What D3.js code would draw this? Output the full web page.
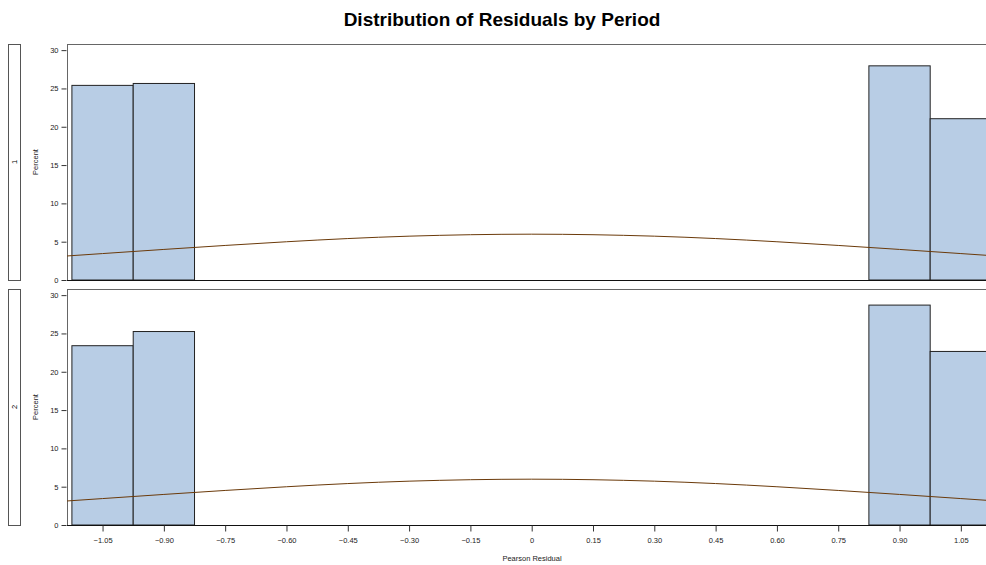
<!DOCTYPE html>
<html>
<head>
<meta charset="utf-8">
<script src="https://cdn.jsdelivr.net/npm/d3@7"></script>
<style>
  body { margin: 0; background: #fff; }
  text { font-family: "Liberation Sans", Arial, sans-serif; }
</style>
</head>
<body>
<script>
// Bin centres (bin width 0.15) and percent per bin for each period
var binCenters = [-1.05, -0.90, 0.90, 1.05];
var binWidth = 0.15;
var period1 = [25.4, 25.65, 27.95, 21.05];
var period2 = [23.4, 25.25, 28.7, 22.65];
var periods = ["1", "2"];

// normal curve (percent scale)
var curveX = [-1.20, -1.05, -0.90, -0.75, -0.60, -0.45, -0.30, -0.15, 0, 0.15, 0.30, 0.45, 0.60, 0.75, 0.90, 1.05, 1.20];
var curveY = [2.91, 3.45, 3.99, 4.51, 4.99, 5.41, 5.72, 5.91, 5.98, 5.91, 5.72, 5.41, 4.99, 4.51, 3.99, 3.45, 2.91];

var xTicks = [-1.05, -0.90, -0.75, -0.60, -0.45, -0.30, -0.15, 0, 0.15, 0.30, 0.45, 0.60, 0.75, 0.90, 1.05];
var yTicks = [0, 5, 10, 15, 20, 25, 30];

var W = 986, H = 565;
var left = 67;
var panels = [{top: 44, bottom: 280, data: period1}, {top: 289, bottom: 525, data: period2}];

var svg = d3.select("body").append("svg")
    .attr("width", W)
    .attr("height", H);

var x = d3.scaleLinear()
    .domain([-1.137, 1.137])
    .range([left, 996.4]);

svg.append("text")
    .attr("x", 502)
    .attr("y", 26)
    .attr("text-anchor", "middle")
    .style("font-size", "19px")
    .style("font-weight", "bold")
    .text("Distribution of Residuals by Period");

svg.append("defs").append("clipPath")
    .attr("id", "plotclip")
  .append("rect")
    .attr("x", left).attr("y", 0)
    .attr("width", W - left).attr("height", H);

panels.forEach(function(p, k) {
  var y = d3.scaleLinear()
      .domain([0, 30.8])
      .range([p.bottom, p.top]);

  var g = svg.append("g");

  // strip on the left
  g.append("rect")
      .attr("x", 8.5).attr("y", p.top + 0.5)
      .attr("width", 12).attr("height", p.bottom - p.top)
      .attr("fill", "#fff")
      .attr("stroke", "#555")
      .attr("stroke-width", 1);
  g.append("text")
      .attr("transform", "translate(16.5," + ((p.top + p.bottom) / 2) + ") rotate(-90)")
      .attr("text-anchor", "middle")
      .style("font-size", "7.5px")
      .text(periods[k]);

  g.append("text")
      .attr("transform", "translate(38," + ((p.top + p.bottom) / 2) + ") rotate(-90)")
      .attr("text-anchor", "middle")
      .style("font-size", "7.5px")
      .attr("fill", "#222")
      .text("Percent");

  var plot = g.append("g").attr("clip-path", "url(#plotclip)");

  // frame
  plot.append("line")
      .attr("x1", left).attr("x2", W)
      .attr("y1", p.top + 0.5).attr("y2", p.top + 0.5)
      .attr("stroke", "#666");
  plot.append("line")
      .attr("x1", left + 0.5).attr("x2", left + 0.5)
      .attr("y1", p.top).attr("y2", p.bottom)
      .attr("stroke", "#666");

  // bars
  plot.selectAll("rect.bar")
      .data(p.data)
      .enter().append("rect")
      .attr("class", "bar")
      .attr("x", function(d, i) { return x(binCenters[i] - binWidth / 2); })
      .attr("y", function(d) { return y(d); })
      .attr("width", function(d, i) { return x(binCenters[i] + binWidth / 2) - x(binCenters[i] - binWidth / 2); })
      .attr("height", function(d) { return y(0) - y(d); })
      .attr("fill", "#B8CDE5")
      .attr("stroke", "#222")
      .attr("stroke-width", 1);

  // normal curve
  var line = d3.line()
      .x(function(d, i) { return x(curveX[i]); })
      .y(function(d) { return y(d); })
      .curve(d3.curveMonotoneX);
  plot.append("path")
      .datum(curveY)
      .attr("d", line)
      .attr("fill", "none")
      .attr("stroke", "#6B3A0A")
      .attr("stroke-width", 1);

  // bottom line
  g.append("line")
      .attr("x1", left).attr("x2", W)
      .attr("y1", p.bottom + 0.5).attr("y2", p.bottom + 0.5)
      .attr("stroke", "#111");

  // y axis
  var yAxis = d3.axisLeft(y).tickValues(yTicks).tickSize(5).tickPadding(3);
  var ya = g.append("g")
      .attr("transform", "translate(" + (left - 0.5) + ",0)")
      .call(yAxis);
  ya.select(".domain").remove();
  ya.selectAll("line").attr("stroke", "#333");
  ya.selectAll("text").style("font-size", "7.5px").attr("fill", "#222")
      .style("font-family", "Liberation Sans, Arial, sans-serif");
});

// x axis at the bottom of the last panel
var xAxis = d3.axisBottom(x)
    .tickValues(xTicks)
    .tickSize(6)
    .tickPadding(6)
    .tickFormat(function(d) { return d === 0 ? "0" : d3.format(".2f")(d); });
var xa = svg.append("g")
    .attr("transform", "translate(0," + 525.5 + ")")
    .call(xAxis);
xa.select(".domain").remove();
xa.selectAll("line").attr("stroke", "#333");
xa.selectAll("text").style("font-size", "7.5px").attr("fill", "#222")
    .style("font-family", "Liberation Sans, Arial, sans-serif");

svg.append("text")
    .attr("x", 532)
    .attr("y", 561)
    .attr("text-anchor", "middle")
    .style("font-size", "7.5px")
    .attr("fill", "#222")
    .text("Pearson Residual");
</script>
</body>
</html>
